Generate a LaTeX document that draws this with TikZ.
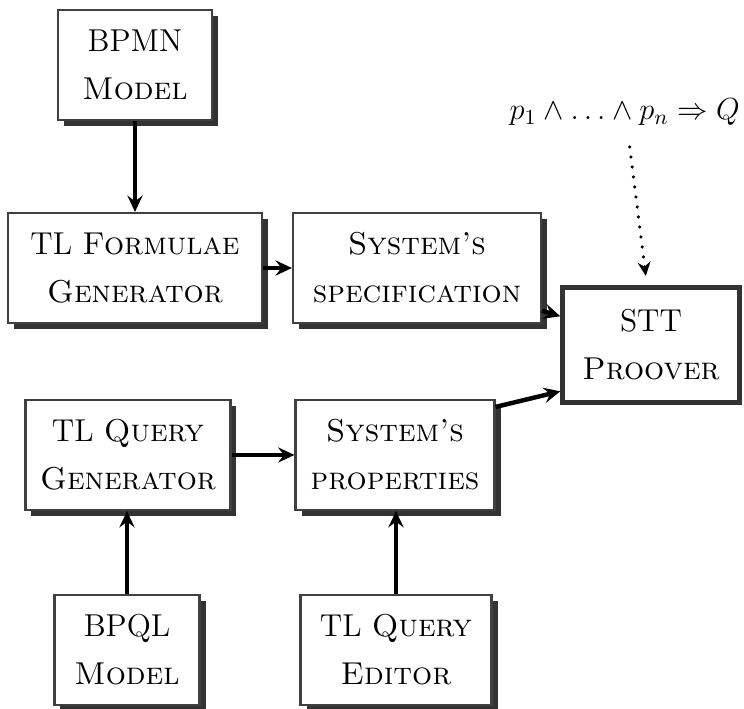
\RequirePackage{fix-cm}
\documentclass[tikz,border=0pt]{standalone}
\usepackage{amsmath,amssymb}
\usepackage{tikz}
\usetikzlibrary{arrows.meta,shadows}

\begin{document}
\begin{tikzpicture}[
  box/.style={draw=black!75,line width=0.9pt,fill=white,minimum height=1.65cm,align=center,font=\fontsize{13.5}{20.5}\selectfont,drop shadow={shadow xshift=0.09cm,shadow yshift=-0.09cm,fill=black!80,opacity=1}},
  prover/.style={draw=black!80,line width=2pt,fill=white,minimum width=2.65cm,minimum height=1.72cm,align=center,font=\fontsize{13.5}{20.5}\selectfont},
  arr/.style={-{Stealth[length=7pt,width=6.5pt,inset=2.5pt]},line width=1.9pt},
  dotarr/.style={-{Stealth[length=6pt,width=5.5pt,inset=2pt]},line width=1.4pt,line cap=round,dash pattern=on 0.1pt off 4.2pt}]
  \useasboundingbox (0,0) rectangle (11.16,-10.635);
  \node[box,minimum width=2.31cm] (bpmn) at (2.025,-0.975) {BPMN\\\textsc{Model}};
  \node[box,minimum width=3.81cm] (tlf) at (2.025,-4.02) {TL \textsc{Formulae}\\\textsc{Generator}};
  \node[box,minimum width=3.72cm] (spec) at (6.255,-4.02) {\textsc{System's}\\\textsc{specification}};
  \node[prover] (stt) at (9.765,-5.175) {STT\\\textsc{Proover}};
  \node[box,minimum width=3.075cm] (tlq) at (1.92,-6.825) {TL \textsc{Query}\\\textsc{Generator}};
  \node[box,minimum width=2.985cm] (prop) at (5.925,-6.825) {\textsc{System's}\\\textsc{properties}};
  \node[box,minimum width=2.175cm] (bpql) at (1.905,-9.75) {BPQL\\\textsc{Model}};
  \node[box,minimum width=2.865cm] (edit) at (5.94,-9.75) {TL \textsc{Query}\\\textsc{Editor}};
  \node[font=\fontsize{13}{15}\selectfont] (f) at (9.37,-1.68) {$p_1\wedge\ldots\wedge p_n\Rightarrow Q$};
  \draw[arr] (bpmn) -- (tlf); \draw[arr] (tlf) -- (spec); \draw[arr] (tlq) -- (prop);
  \draw[arr] (bpql) -- (bpql |- tlq.south); \draw[arr] (edit) -- (edit |- prop.south);
  \draw[arr] ([yshift=0.2cm]spec.south east) -- ([yshift=0.43cm]stt.west);
  \draw[arr] ([yshift=-0.12cm]prop.north east) -- ([yshift=0.2cm]stt.south west);
  \draw[dotarr,shorten <=0.2cm,shorten >=4pt] ([xshift=0.05cm]f.south) -- ([xshift=-0.06cm]stt.north);
\end{tikzpicture}
\end{document}
